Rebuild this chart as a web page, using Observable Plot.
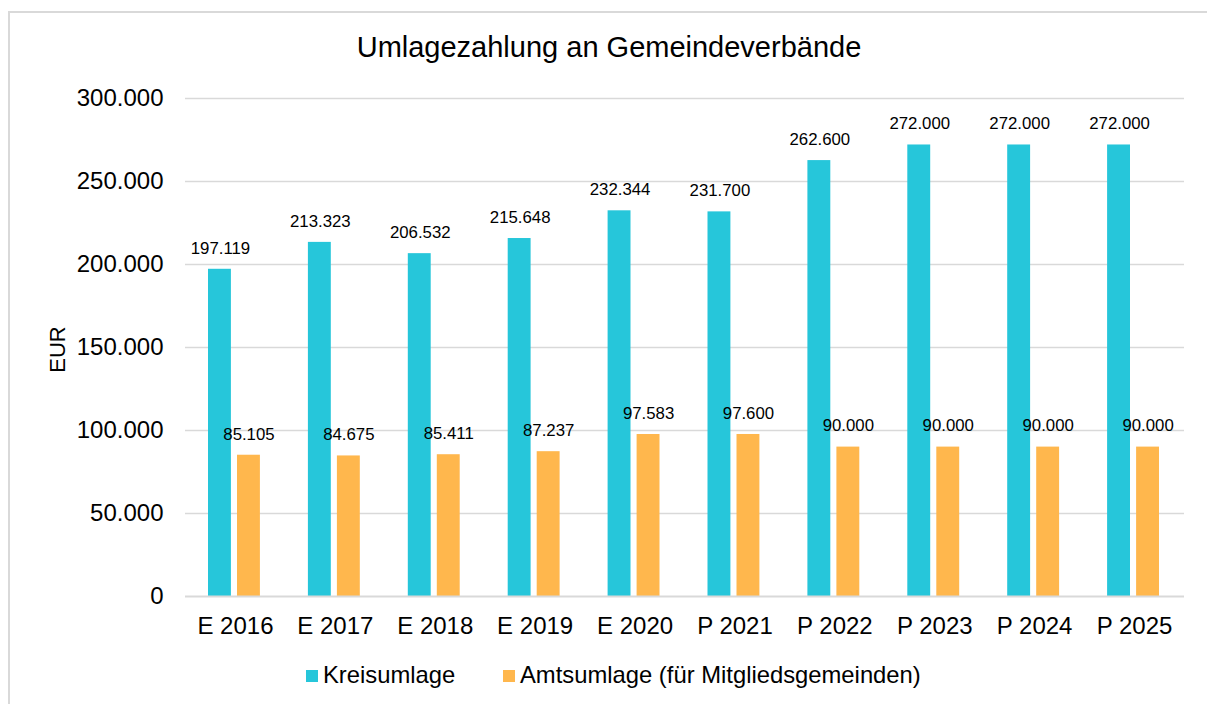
<!DOCTYPE html>
<html>
<head>
<meta charset="utf-8">
<script src="https://cdn.jsdelivr.net/npm/d3@7"></script>
<script src="https://cdn.jsdelivr.net/npm/@observablehq/plot@0.6"></script>
<style>
  html, body { margin: 0; padding: 0; background: #fff; }
  #wrap { position: relative; width: 1207px; height: 704px; overflow: hidden; font-family: "Liberation Sans", Arial, Helvetica, sans-serif; color: #000; }
  #frame { position: absolute; left: 8px; top: 11px; width: 1230px; height: 730px; border: 2px solid #d9d9d9; box-sizing: border-box; }
  #chart { position: absolute; left: 0; top: 0; }
  #title { position: absolute; left: 0; width: 1218px; top: 30px; text-align: center; font-size: 29px; line-height: 34px; }
  #legend { position: absolute; top: 661px; left: 0; width: 1207px; font-size: 23.8px; line-height: 28px; }
  .item { position: absolute; top: 0; white-space: nowrap; }
  .sw { display: inline-block; width: 12px; height: 12px; margin-right: 5px; vertical-align: 1px; }
</style>
</head>
<body>
<div id="wrap">
  <div id="frame"></div>
  <div id="chart"></div>
  <div id="title"></div>
  <div id="legend"></div>
</div>
<script>
const categories = ["E 2016","E 2017","E 2018","E 2019","E 2020","P 2021","P 2022","P 2023","P 2024","P 2025"];
const kreisumlage = [197119, 213323, 206532, 215648, 232344, 231700, 262600, 272000, 272000, 272000];
const amtsumlage = [85105, 84675, 85411, 87237, 97583, 97600, 90000, 90000, 90000, 90000];
const seriesNames = ["Kreisumlage", "Amtsumlage (für Mitgliedsgemeinden)"];
const seriesColors = ["#26C6DA", "#FFB74D"];
const yTicks = [0, 50000, 100000, 150000, 200000, 250000, 300000];
const titleText = "Umlagezahlung an Gemeindeverbände";
const yLabel = "EUR";

const de = d3.formatLocale({decimal: ",", thousands: ".", grouping: [3], currency: ["", " €"]});
const fmt = de.format(",d");

const dataK = categories.map((c, i) => ({cat: c, value: kreisumlage[i]}));
const dataA = categories.map((c, i) => ({cat: c, value: amtsumlage[i]}));

const chart = Plot.plot({
  width: 1207,
  height: 704,
  marginTop: 98,
  marginBottom: 108,
  marginLeft: 185,
  marginRight: 23,
  style: {fontFamily: '"Liberation Sans", Arial, Helvetica, sans-serif', color: "#000", background: "transparent"},
  x: {type: "band", domain: categories, padding: 0, round: false},
  y: {domain: [0, 300000]},
  marks: [
    Plot.gridY(yTicks.filter(d => d > 0), {stroke: "#d9d9d9", strokeOpacity: 1, strokeWidth: 1.5}),
    Plot.barY(dataK, {x: "cat", y: "value", fill: seriesColors[0], insetLeft: 23, insetRight: 54}),
    Plot.barY(dataA, {x: "cat", y: "value", fill: seriesColors[1], insetLeft: 52, insetRight: 25}),
    Plot.ruleY([0], {stroke: "#d9d9d9", strokeWidth: 2}),
    Plot.text(dataK, {x: "cat", y: "value", text: d => fmt(d.value), dx: -15, dy: -21, fontSize: 16.8, fill: "#000"}),
    Plot.text(dataA, {x: "cat", y: "value", text: d => fmt(d.value), dx: 13.5, dy: -21, fontSize: 16.8, fill: "#000"}),
    Plot.axisY({ticks: yTicks, tickFormat: d => fmt(d), tickSize: 0, tickPadding: 22, fontSize: 24, label: null}),
    Plot.axisX({tickSize: 0, tickPadding: 20, fontSize: 24, label: null}),
    Plot.text([yLabel], {frameAnchor: "left", textAnchor: "middle", dx: -128, dy: 2, rotate: -90, fontSize: 22, fill: "#000"})
  ]
});
document.getElementById("chart").appendChild(chart);
document.getElementById("title").textContent = titleText;

const legend = document.getElementById("legend");
const lefts = [306, 503];
seriesNames.forEach((name, i) => {
  const it = document.createElement("div");
  it.className = "item";
  it.style.left = lefts[i] + "px";
  const sw = document.createElement("span");
  sw.className = "sw";
  sw.style.background = seriesColors[i];
  it.appendChild(sw);
  it.appendChild(document.createTextNode(name));
  legend.appendChild(it);
});
</script>
</body>
</html>
